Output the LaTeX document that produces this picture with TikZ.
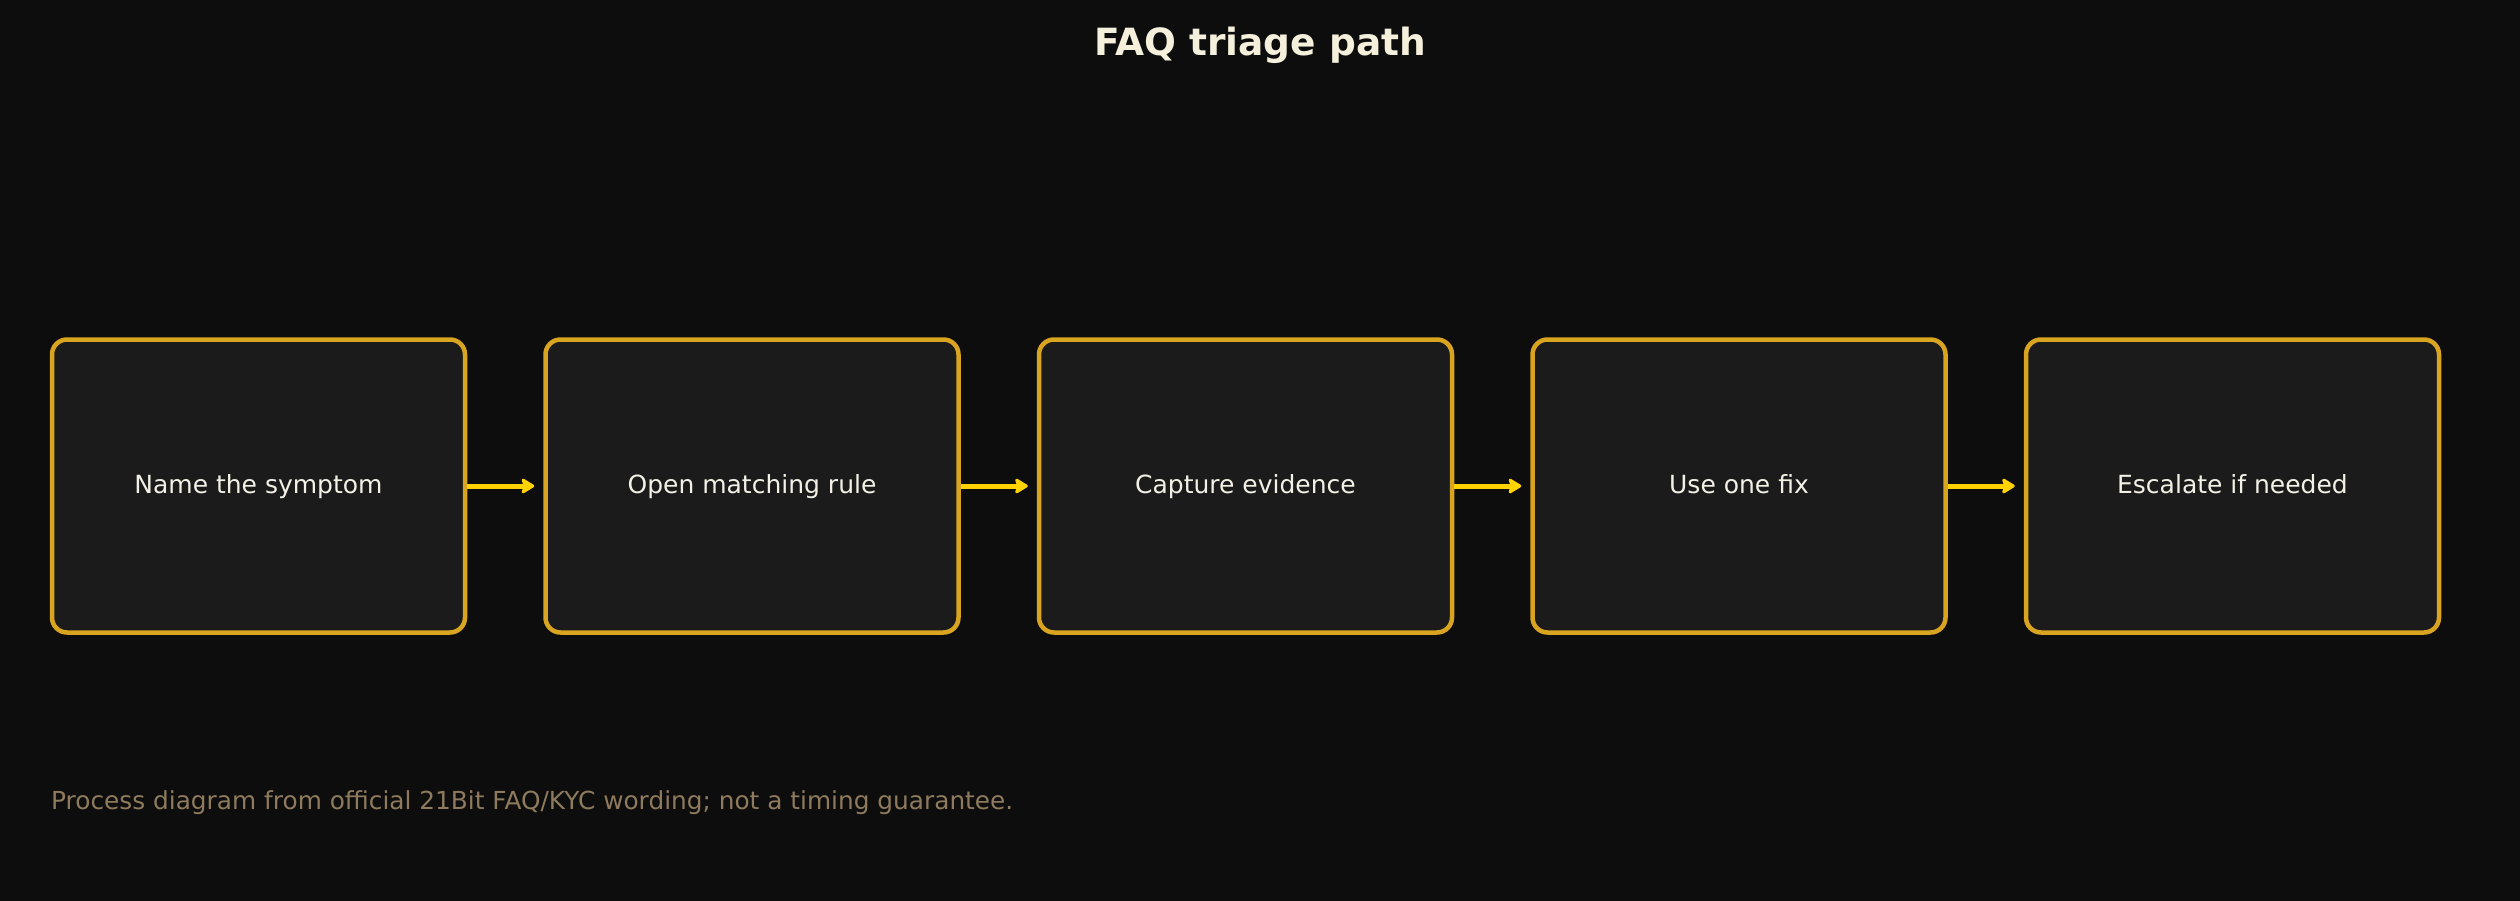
\documentclass[tikz,border=0pt]{standalone}
\usepackage{fontspec}
\setmainfont{DejaVu Sans}
\usetikzlibrary{arrows.meta}
\definecolor{bgc}{HTML}{0D0D0D}
\definecolor{boxfill}{HTML}{1B1B1B}
\definecolor{boxborder}{HTML}{D9A521}
\definecolor{arrowc}{HTML}{FFD200}
\definecolor{titlec}{HTML}{F5F0DC}
\definecolor{labelc}{HTML}{F3F1E6}
\definecolor{footc}{HTML}{8E7A5C}
\tikzset{
  stepbox/.style={draw=boxborder, fill=boxfill, line width=4.5pt, rounded corners=15pt,
    minimum width=413pt, minimum height=293pt, inner sep=0pt, text=labelc,
    text height=19pt, text depth=5pt,
    font=\fontsize{25pt}{30pt}\selectfont},
  flow/.style={draw=arrowc, line width=5pt, shorten >=9pt,
    -{Stealth[length=15pt, width=18pt, inset=3pt, round]}},
}
\begin{document}
\begin{tikzpicture}[x=1pt, y=-1pt]
\useasboundingbox (0,0) rectangle (2520,900);
\fill[bgc] (-10,-10) rectangle (2530,910);
\node[text=titlec, font=\fontsize{37.5pt}{44pt}\selectfont\bfseries] (title) at (1260,45) {FAQ triage path};
\node[stepbox] (s1) at (258.5,486) {Name the symptom};
\node[stepbox] (s2) at (752,486) {Open matching rule};
\node[stepbox] (s3) at (1245.5,486) {Capture evidence};
\node[stepbox] (s4) at (1739,486) {Use one fix};
\node[stepbox] (s5) at (2232.5,486) {Escalate if needed};
\draw[flow] (s1.east) -- (s2.west);
\draw[flow] (s2.east) -- (s3.west);
\draw[flow] (s3.east) -- (s4.west);
\draw[flow] (s4.east) -- (s5.west);
\node[anchor=west, text=footc, font=\fontsize{24.8pt}{30pt}\selectfont, inner sep=0pt] (foot) at (51,803) {Process diagram from official 21Bit FAQ/KYC wording; not a timing guarantee.};
\end{tikzpicture}
\end{document}
